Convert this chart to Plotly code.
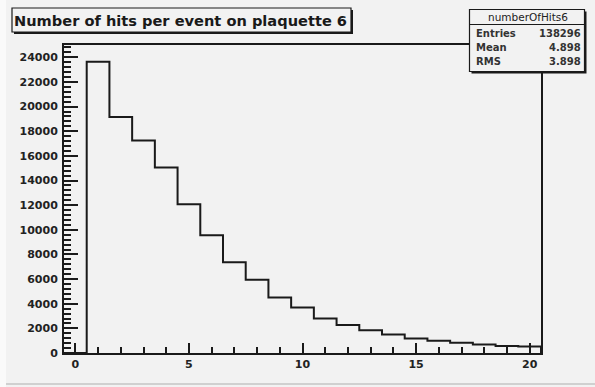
import plotly.graph_objects as go

# Histogram: number of hits per event (bins centred on integers 0..20)
hit_counts = list(range(0, 21))
events = [0, 23650, 19150, 17250, 15050, 12080, 9560, 7370, 5940, 4500,
          3700, 2800, 2270, 1840, 1500, 1180, 1000, 840, 690, 570, 530]

hist_title = "Number of hits per event on plaquette 6"
stats_name = "numberOfHits6"
stats_labels = ["Entries", "Mean", "RMS"]
stats_values = ["138296", "4.898", "3.898"]

x_ticks = [0, 5, 10, 15, 20]
y_ticks = list(range(0, 24001, 2000))

W, H = 595, 387
L, R, T, B = 64, 54, 45, 34
PW, PH = W - L - R, H - T - B


def px(x):
    return (x - L) / PW


def py(y):
    return (H - B - y) / PH


# step outline: one point per bin left edge, closed down to zero at the right end
edges = [c - 0.5 for c in hit_counts] + [hit_counts[-1] + 0.5]
step_y = events + [0]

fig = go.Figure()
fig.add_trace(go.Scatter(
    x=edges, y=step_y, mode="lines", line_shape="hv",
    line=dict(color="#1a1a1a", width=2), hoverinfo="skip", showlegend=False,
))

bg = "#f2f2f2"
shapes = []
annotations = []

# title pave with shadow
shapes.append(dict(type="rect", xref="paper", yref="paper",
                   x0=px(14), x1=px(353), y0=py(10), y1=py(34),
                   fillcolor="#1a1a1a", line=dict(width=0), layer="above"))
shapes.append(dict(type="rect", xref="paper", yref="paper",
                   x0=px(12), x1=px(351), y0=py(8), y1=py(32),
                   fillcolor=bg, line=dict(color="#1a1a1a", width=1.2), layer="above"))
annotations.append(dict(text=hist_title, xref="paper", yref="paper",
                        x=px(180), y=py(20.5), showarrow=False,
                        xanchor="center", yanchor="middle",
                        font=dict(family="DejaVu Sans", size=14.6, weight="bold",
                                  color="#1a1a1a")))

# statistics box with shadow
shapes.append(dict(type="rect", xref="paper", yref="paper",
                   x0=px(471.5), x1=px(586.5), y0=py(11.5), y1=py(73.5),
                   fillcolor="#1a1a1a", line=dict(width=0), layer="above"))
shapes.append(dict(type="rect", xref="paper", yref="paper",
                   x0=px(469.5), x1=px(584.5), y0=py(9.5), y1=py(71.5),
                   fillcolor=bg, line=dict(color="#1a1a1a", width=1.2), layer="above"))
shapes.append(dict(type="line", xref="paper", yref="paper",
                   x0=px(469.5), x1=px(584.5), y0=py(24.5), y1=py(24.5),
                   line=dict(color="#1a1a1a", width=1.2), layer="above"))
annotations.append(dict(text=stats_name, xref="paper", yref="paper",
                        x=px(528), y=py(17), showarrow=False,
                        xanchor="center", yanchor="middle",
                        font=dict(family="DejaVu Sans", size=10.5, color="#222222")))
row_y = [33, 47.5, 61]
for lab, val, yy in zip(stats_labels, stats_values, row_y):
    annotations.append(dict(text=lab, xref="paper", yref="paper",
                            x=px(474), y=py(yy), showarrow=False,
                            xanchor="left", yanchor="middle",
                            font=dict(family="DejaVu Sans", size=10, weight="bold",
                                      color="#333333")))
    annotations.append(dict(text=val, xref="paper", yref="paper",
                            x=px(582.5), y=py(yy), showarrow=False,
                            xanchor="right", yanchor="middle",
                            font=dict(family="DejaVu Sans", size=10, weight="bold",
                                      color="#333333")))

# canvas edges
shapes.append(dict(type="rect", xref="paper", yref="paper",
                   x0=px(0), x1=px(6), y0=py(0), y1=py(387),
                   fillcolor="#fafafa", line=dict(width=0), layer="below"))
shapes.append(dict(type="line", xref="paper", yref="paper",
                   x0=px(6), x1=px(595), y0=py(384), y1=py(384),
                   line=dict(color="#c4c4c4", width=1.5), layer="below"))

tick_font = dict(family="DejaVu Sans", size=11, weight="bold", color="#222222")

fig.update_layout(
    width=W, height=H,
    margin=dict(l=L, r=R, t=T, b=B),
    paper_bgcolor=bg, plot_bgcolor=bg,
    shapes=shapes, annotations=annotations,
    xaxis=dict(
        range=[-0.5, 20.5], tickvals=x_ticks, ticktext=[str(v) for v in x_ticks],
        ticks="inside", ticklen=10, tickwidth=1.5, tickcolor="#1a1a1a",
        minor=dict(dtick=1, tick0=0, ticks="inside", ticklen=6, tickwidth=1.5,
                   tickcolor="#1a1a1a", showgrid=False),
        showline=True, linewidth=2, linecolor="#1a1a1a", mirror=True,
        showgrid=False, zeroline=False, tickfont=tick_font,
    ),
    yaxis=dict(
        range=[0, 25000], tickvals=y_ticks, ticktext=[str(v) for v in y_ticks],
        ticks="inside", ticklen=14, tickwidth=1.5, tickcolor="#1a1a1a",
        minor=dict(dtick=400, tick0=0, ticks="inside", ticklen=7, tickwidth=1.5,
                   tickcolor="#1a1a1a", showgrid=False),
        showline=True, linewidth=2, linecolor="#1a1a1a", mirror=True,
        showgrid=False, zeroline=False, tickfont=tick_font,
        ticklabelstandoff=2,
    ),
)

fig.write_html("out.html")
